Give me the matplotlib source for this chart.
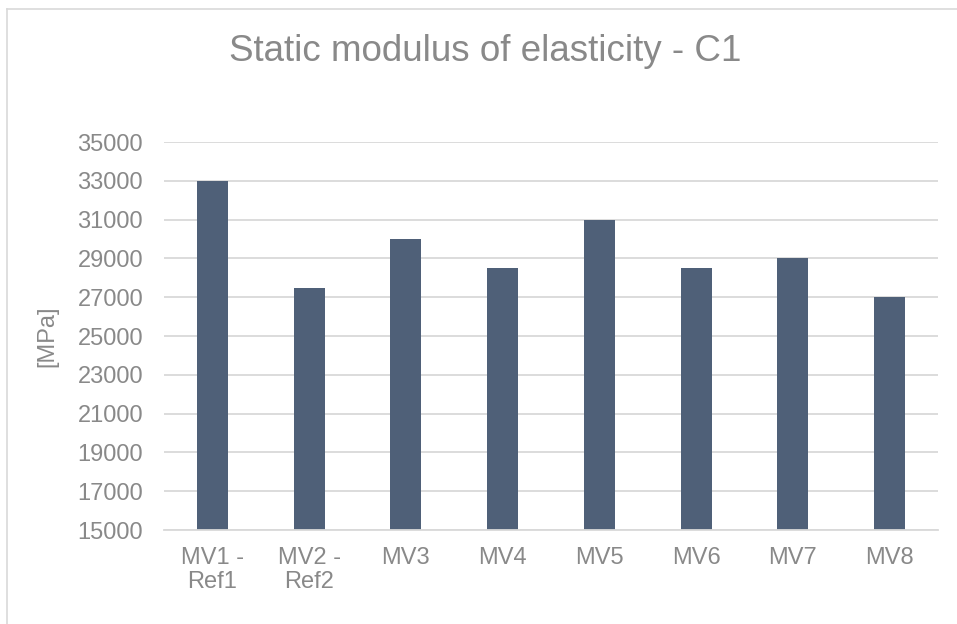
import numpy as np
import matplotlib.pyplot as plt
from matplotlib.lines import Line2D

plt.rcParams['font.family'] = ['Liberation Sans', 'DejaVu Sans']

categories = ["MV1 -\nRef1", "MV2 -\nRef2", "MV3", "MV4", "MV5", "MV6", "MV7", "MV8"]
values = [33000, 27500, 30000, 28500, 31000, 28500, 29000, 27000]
yticks = list(range(15000, 35001, 2000))

text_color = "#898989"
grid_color = "#d9d9d9"
bar_color = "#4f6078"

fig = plt.figure(figsize=(9.57, 6.24), dpi=100)
ax = fig.add_axes([0.1714, 0.1506, 0.8086, 0.6218])

x = np.arange(len(categories))
ax.bar(x, values, width=0.32, color=bar_color, zorder=3)

ax.set_ylim(15000, 35000)
ax.set_xlim(-0.5, len(categories) - 0.5)
ax.set_yticks(yticks)
ax.set_xticks(x)
ax.set_xticklabels(categories, linespacing=1.15)
ax.tick_params(axis='both', length=0, labelsize=17, colors=text_color)
ax.tick_params(axis='y', pad=15)
ax.tick_params(axis='x', pad=12)

ax.yaxis.grid(True, color=grid_color, linewidth=1.3, zorder=0)
for s in ['top', 'right', 'left']:
    ax.spines[s].set_visible(False)
ax.spines['bottom'].set_color(grid_color)
ax.spines['bottom'].set_linewidth(1.3)
ax.spines['bottom'].set_zorder(4)

ax.set_ylabel("[MPa]", fontsize=17, color=text_color, labelpad=14)

fig.text(0.507, 0.918, "Static modulus of elasticity - C1", ha='center', va='center',
         fontsize=26.5, color=text_color)

# chart area border (top and left visible in the picture)
fig.add_artist(Line2D([7 / 957, 1.0], [1 - 8.5 / 624, 1 - 8.5 / 624],
                      transform=fig.transFigure, color="#d9d9d9", linewidth=1.2))
fig.add_artist(Line2D([7 / 957, 7 / 957], [0.0, 1 - 8.5 / 624],
                      transform=fig.transFigure, color="#d9d9d9", linewidth=1.2))

fig.savefig("out.png", dpi=100)
